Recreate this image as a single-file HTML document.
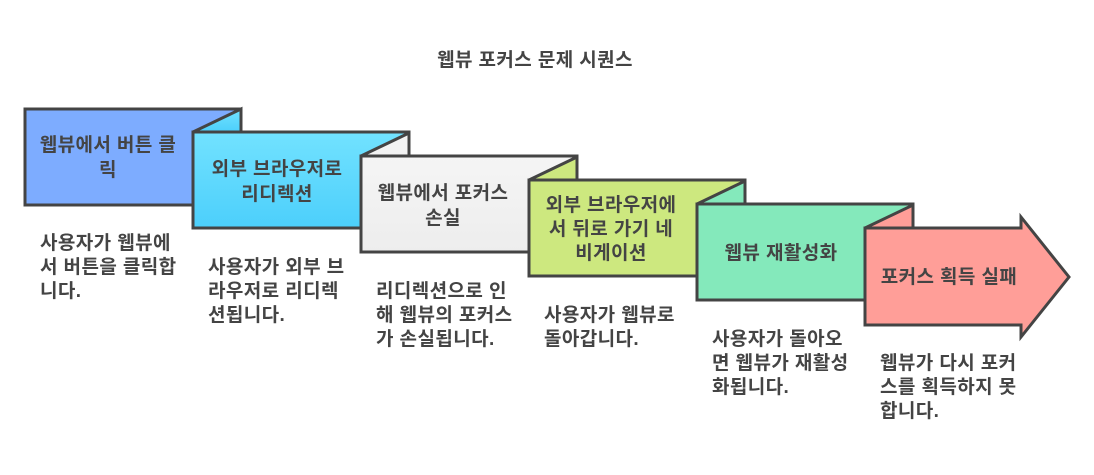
<!DOCTYPE html>
<html><head><meta charset="utf-8"><style>
body{margin:0;background:#fff;}
svg text{font-family:"Liberation Sans","Noto Sans CJK KR",sans-serif;font-weight:bold;fill:#444;letter-spacing:0.4px;}
</style></head><body>
<svg width="1094" height="470" xmlns="http://www.w3.org/2000/svg">
<defs><linearGradient id="g2" x1="0" y1="0" x2="0" y2="1"><stop offset="0" stop-color="#72e2ff"/><stop offset="1" stop-color="#4ccffb"/></linearGradient>
<linearGradient id="g3" x1="0" y1="0" x2="0" y2="1"><stop offset="0" stop-color="#f5f5f5"/><stop offset="1" stop-color="#ededed"/></linearGradient></defs>
<text x="535" y="66" font-size="19" text-anchor="middle">웹뷰 포커스 문제 시퀀스</text>
<g stroke="#444" stroke-width="3" stroke-linejoin="miter">
<rect x="25" y="109" width="216" height="96" fill="#7dacff"/>
<path d="M193 132 L241 109 L241 132 Z" fill="url(#g2)"/>
<rect x="193" y="132" width="216" height="96" fill="url(#g2)"/>
<path d="M361 156 L409 133 L409 156 Z" fill="#f3f3f3"/>
<rect x="361" y="156" width="216" height="96" fill="url(#g3)"/>
<path d="M529 180 L577 157 L577 180 Z" fill="#cde87f"/>
<rect x="529" y="180" width="216" height="96" fill="#cde87f"/>
<path d="M697 204 L745 181 L745 204 Z" fill="#84e9bb"/>
<rect x="697" y="204" width="216" height="96" fill="#84e9bb"/>
<path d="M865 228 L913 205 L913 228 Z" fill="#ff9e98"/>
<path d="M865 228 L1021 228 L1021 217 L1069 277 L1021 337 L1021 325 L865 325 Z" fill="#ff9e98"/>
</g>
<g font-size="19" text-anchor="middle">
<text x="108" y="151">웹뷰에서 버튼 클</text><text x="108" y="176">릭</text>
<text x="277" y="175">외부 브라우저로</text><text x="277" y="200">리디렉션</text>
<text x="443" y="199">웹뷰에서 포커스</text><text x="443" y="224">손실</text>
<text x="611" y="211">외부 브라우저에</text><text x="611" y="235">서 뒤로 가기 네</text><text x="611" y="259">비게이션</text>
<text x="781" y="259">웹뷰 재활성화</text>
<text x="949" y="283">포커스 획득 실패</text>
</g>
<g font-size="19">
<text x="40" y="249">사용자가 웹뷰에</text><text x="40" y="273">서 버튼을 클릭합</text><text x="40" y="297">니다.</text>
<text x="208" y="273">사용자가 외부 브</text><text x="208" y="297">라우저로 리디렉</text><text x="208" y="321">션됩니다.</text>
<text x="376" y="297">리디렉션으로 인</text><text x="376" y="321">해 웹뷰의 포커스</text><text x="376" y="345">가 손실됩니다.</text>
<text x="544" y="321">사용자가 웹뷰로</text><text x="544" y="345">돌아갑니다.</text>
<text x="712" y="345">사용자가 돌아오</text><text x="712" y="369">면 웹뷰가 재활성</text><text x="712" y="393">화됩니다.</text>
<text x="880" y="369">웹뷰가 다시 포커</text><text x="880" y="393">스를 획득하지 못</text><text x="880" y="417">합니다.</text>
</g>
</svg>
</body></html>
